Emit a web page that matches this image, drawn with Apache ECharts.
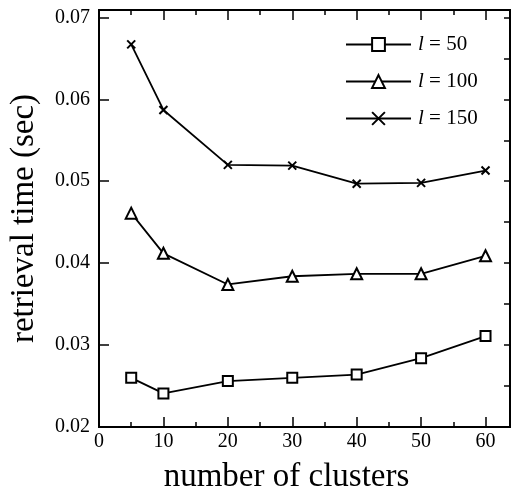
<!DOCTYPE html>
<html>
<head>
<meta charset="utf-8">
<script src="https://cdn.jsdelivr.net/npm/echarts@6/dist/echarts.min.js"></script>
<style>
	html, body { margin: 0; padding: 0; background: #fff; }
	#container { width: 512px; height: 489px; }
</style>
</head>
<body>
<div id="container"></div>
<script>
// 横轴: 聚类数
var clusters = [5, 10, 20, 30, 40, 50, 60];
// 各条曲线的检索时间 (sec)
var l50 = [0.0260, 0.0241, 0.0256, 0.0260, 0.0264, 0.0284, 0.0311];
var l100 = [0.0461, 0.0412, 0.0374, 0.0384, 0.0387, 0.0387, 0.0409];
var l150 = [0.0667, 0.0587, 0.0520, 0.0519, 0.0497, 0.0498, 0.0513];
var seriesNames = ['l = 50', 'l = 100', 'l = 150'];

var font = 'Liberation Serif';
var crossPath = 'path://M0,0L10,10M10,0L0,10';

/**
 * 把横轴和数值组合成点
 */
function toPoints(xs, ys) {
	var pts = [];
	for (var i = 0; i < xs.length; i++) {
		pts.push([xs[i], ys[i]]);
	}
	return pts;
}

/**
 * 坐标轴 (刻度朝内)
 */
function makeAxis(type, pos, interval, tickLen, showLabel, extra) {
	var axis = {
		type : 'value',
		position : pos,
		min : type == 'x' ? 0 : 0.02,
		max : type == 'x' ? 63.8 : 0.0709,
		interval : interval,
		splitLine : { show : false },
		axisLine : { show : true, onZero : false, lineStyle : { color : '#000', width : 2 } },
		axisTick : { show : tickLen > 0, inside : true, length : tickLen, lineStyle : { color : '#000', width : 1.5 } },
		axisLabel : { show : showLabel }
	};
	for (var k in extra) {
		axis[k] = extra[k];
	}
	return axis;
}

var chart = echarts.init(document.getElementById('container'));

var xLabel = {
	show : true,
	margin : 5,
	color : '#000',
	fontFamily : font,
	fontSize : 20,
	formatter : function(v) {
		return v % 10 === 0 ? String(v) : '';
	}
};
var yLabel = {
	show : true,
	margin : 9,
	color : '#000',
	fontFamily : font,
	fontSize : 20,
	formatter : function(v) {
		return Math.abs(v * 100 - Math.round(v * 100)) < 1e-6 ? v.toFixed(2) : '';
	}
};

chart.setOption({
	animation : false,
	backgroundColor : '#fff',
	grid : { left : 99, right : 2, top : 10, bottom : 62, outerBoundsMode : 'none', containLabel : false },
	legend : {
		orient : 'vertical',
		left : 340,
		top : 29,
		itemWidth : 65,
		itemHeight : 16,
		itemGap : 16,
		data : seriesNames,
		formatter : function(name) {
			return '{i|l}{n|' + name.slice(1) + '}';
		},
		textStyle : {
			color : '#000',
			fontFamily : font,
			fontSize : 21,
			rich : {
				i : { fontStyle : 'italic', fontFamily : font, fontSize : 21, color : '#000', padding : [0, 0, 0, 2] },
				n : { fontFamily : font, fontSize : 21, color : '#000' }
			}
		}
	},
	xAxis : [
		makeAxis('x', 'bottom', 10, 10, true, {
			axisLabel : xLabel,
			name : 'number of clusters',
			nameLocation : 'middle',
			nameGap : 34,
			nameTextStyle : { color : '#000', fontFamily : font, fontSize : 33, padding : [0, 36, 0, 0] }
		}),
		makeAxis('x', 'top', 10, 10, false),
		// 次刻度 (位置会被自动翻转)
		makeAxis('x', 'top', 5, 5, false),
		makeAxis('x', 'bottom', 5, 5, false)
	],
	yAxis : [
		makeAxis('y', 'left', 0.01, 10, true, {
			axisLabel : yLabel,
			name : 'retrieval time (sec)',
			nameLocation : 'middle',
			nameGap : 58,
			nameTextStyle : { color : '#000', fontFamily : font, fontSize : 33 }
		}),
		makeAxis('y', 'right', 0.01, 5, false),
		makeAxis('y', 'right', 0.005, 6, false)
	],
	series : [ {
		name : seriesNames[0],
		type : 'line',
		data : toPoints(clusters, l50),
		symbol : 'emptyRect',
		symbolSize : 10,
		color : '#000',
		lineStyle : { color : '#000', width : 1.8 },
		itemStyle : { color : '#000' }
	}, {
		name : seriesNames[1],
		type : 'line',
		data : toPoints(clusters, l100),
		symbol : 'emptyTriangle',
		symbolSize : 11,
		color : '#000',
		lineStyle : { color : '#000', width : 1.8 },
		itemStyle : { color : '#000' }
	}, {
		name : seriesNames[2],
		type : 'line',
		data : toPoints(clusters, l150),
		symbol : crossPath,
		symbolSize : 8,
		color : '#000',
		lineStyle : { color : '#000', width : 1.8 },
		itemStyle : { color : '#000', borderColor : '#000', borderWidth : 2 }
	} ]
});
</script>
</body>
</html>
